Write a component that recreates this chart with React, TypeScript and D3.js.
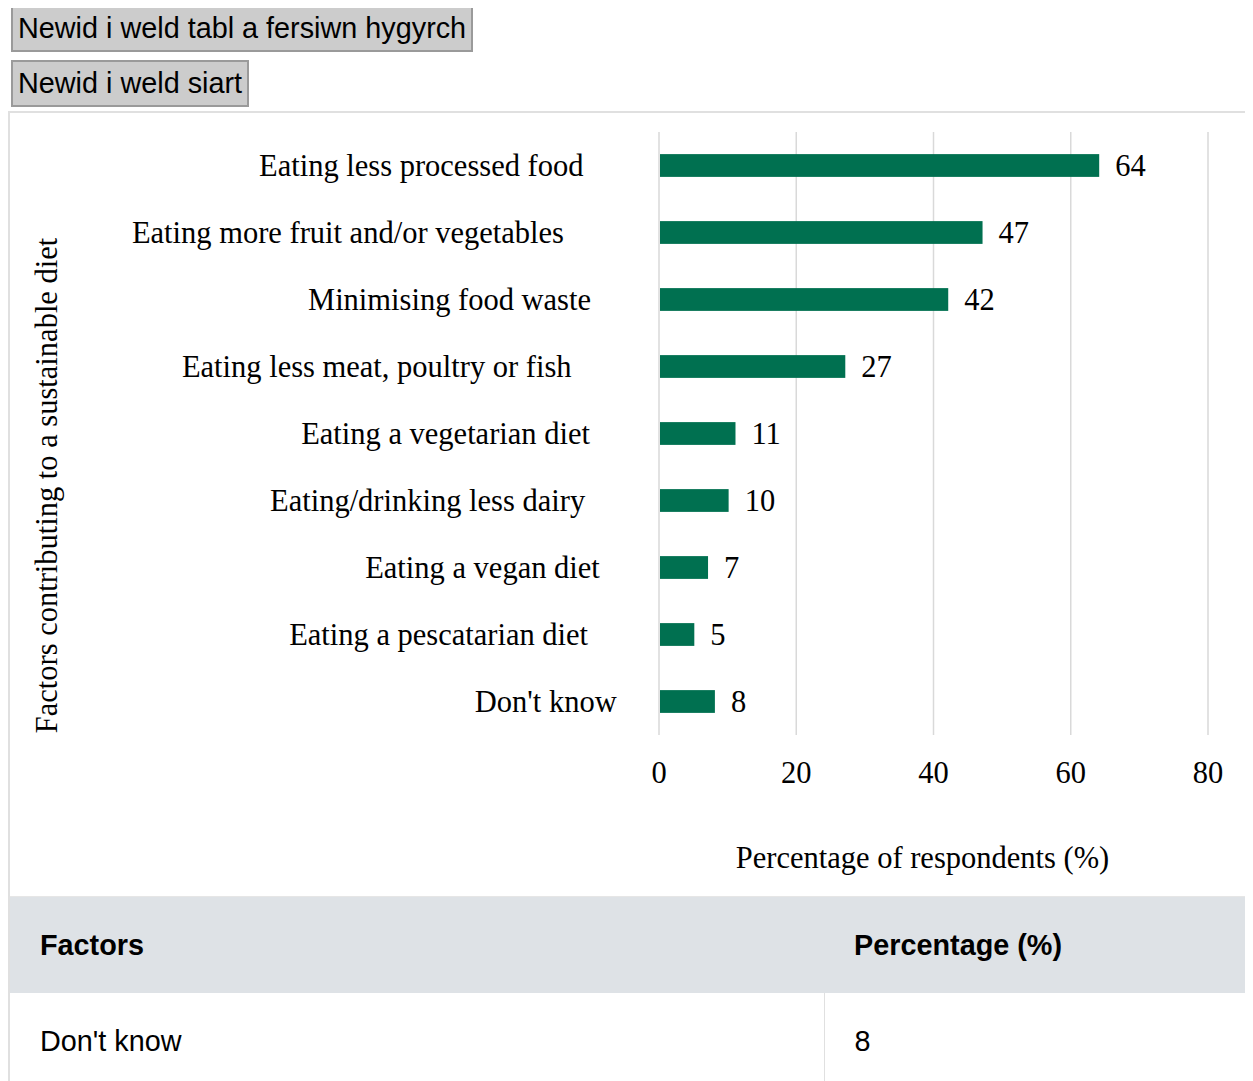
import { scaleBand, scaleLinear } from "d3";
import { useMemo } from "react";

const categories = [
  "Eating less processed food",
  "Eating more fruit and/or vegetables",
  "Minimising food waste",
  "Eating less meat, poultry or fish",
  "Eating a vegetarian diet",
  "Eating/drinking less dairy",
  "Eating a vegan diet",
  "Eating a pescatarian diet",
  "Don't know"
];
const values = [64, 47, 42, 27, 11, 10, 7, 5, 8];
const xTicks = [0, 20, 40, 60, 80];

const serif = '"Liberation Serif", "Times New Roman", serif';
const sans = '"Liberation Sans", Arial, sans-serif';
const fontSize = 30.5;
const barColor = "#007050";
const gridColor = "#d9d9d9";

const width = 1290;
const height = 783;
const plot = { left: 649, top: 19, right: 1198, bottom: 622 };

function measure(text: string) {
  const ctx = document.createElement("canvas").getContext("2d");
  if (!ctx) return text.length * fontSize * 0.45;
  ctx.font = `${fontSize}px ${serif}`;
  return ctx.measureText(text).width;
}

const buttonStyle = {
  display: "block",
  boxSizing: "border-box" as const,
  height: 47,
  font: `28.8px ${sans}`,
  lineHeight: "33px",
  background: "#cccccc",
  color: "#000",
  border: "2px solid #9a9a9a",
  padding: "0 5px",
  margin: "0 0 8px 3px",
  borderRadius: 0
};

const cellStyle = {
  font: `28.8px ${sans}`,
  padding: "0 30px",
  height: 96,
  verticalAlign: "middle" as const,
  textAlign: "left" as const
};

export default function App() {
  const x = useMemo(() => scaleLinear().domain([0, 80]).range([plot.left, plot.right]), []);
  const y = useMemo(
    () => scaleBand().domain(categories).range([plot.top, plot.bottom]).paddingInner(0.66).paddingOuter(0.33),
    []
  );
  const labelWidths = useMemo(() => categories.map(measure), []);

  const tableRows = categories.map((c, i) => ({ c, v: values[i] })).reverse();

  return (
    <div style={{ width: 1245, overflow: "hidden", marginTop: -3 }}>
      <button style={buttonStyle}>Newid i weld tabl a fersiwn hygyrch</button>
      <button style={{ ...buttonStyle, marginBottom: 4 }}>Newid i weld siart</button>
      <div style={{ width: width, border: "2px solid #e0e0e0", borderRight: "none", background: "#fff" }}>
        <svg width={width} height={height} style={{ display: "block" }}>
          {xTicks.map((t) => (
            <line key={t} x1={x(t)} x2={x(t)} y1={plot.top} y2={plot.bottom} stroke={gridColor} strokeWidth={1.5} />
          ))}
          {categories.map((c, i) => {
            const cy = (y(c) ?? 0) + y.bandwidth() / 2;
            return (
              <g key={c}>
                <rect x={x(0) + 1} y={y(c)} width={x(values[i]) - x(0)} height={y.bandwidth()} fill={barColor} />
                <text
                  x={x(values[i]) + 17}
                  y={cy}
                  dominantBaseline="central"
                  fontFamily={serif}
                  fontSize={fontSize}
                  fill="#000"
                >
                  {values[i]}
                </text>
                <text
                  x={632.5 - 1.182 * labelWidths[i]}
                  y={cy}
                  dominantBaseline="central"
                  fontFamily={serif}
                  fontSize={fontSize}
                  fill="#000"
                >
                  {c}
                </text>
              </g>
            );
          })}
          {xTicks.map((t) => (
            <text
              key={t}
              x={x(t)}
              y={plot.bottom + 38}
              textAnchor="middle"
              dominantBaseline="central"
              fontFamily={serif}
              fontSize={fontSize}
              fill="#000"
            >
              {t}
            </text>
          ))}
          <text
            x={(plot.left + plot.right) / 2 - 11}
            y={plot.bottom + 123}
            textAnchor="middle"
            dominantBaseline="central"
            fontFamily={serif}
            fontSize={fontSize}
            fill="#000"
          >
            Percentage of respondents (%)
          </text>
          <text
            transform={`translate(37, ${(plot.top + plot.bottom) / 2 + 52}) rotate(-90)`}
            textAnchor="middle"
            dominantBaseline="central"
            fontFamily={serif}
            fontSize={fontSize}
            fill="#000"
          >
            Factors contributing to a sustainable diet
          </text>
        </svg>
        <table style={{ borderCollapse: "collapse", width: width, borderTop: "1px solid #e6e6e6" }}>
          <thead>
            <tr style={{ background: "#dee2e6" }}>
              <th style={{ ...cellStyle, fontWeight: "bold", width: 754 }}>Factors</th>
              <th style={{ ...cellStyle, fontWeight: "bold" }}>Percentage (%)</th>
            </tr>
          </thead>
          <tbody>
            {tableRows.map((r) => (
              <tr key={r.c} style={{ borderBottom: "1px solid #e0e0e0" }}>
                <td style={{ ...cellStyle, borderRight: "1px solid #e0e0e0" }}>{r.c}</td>
                <td style={cellStyle}>{r.v}</td>
              </tr>
            ))}
          </tbody>
        </table>
      </div>
    </div>
  );
}
